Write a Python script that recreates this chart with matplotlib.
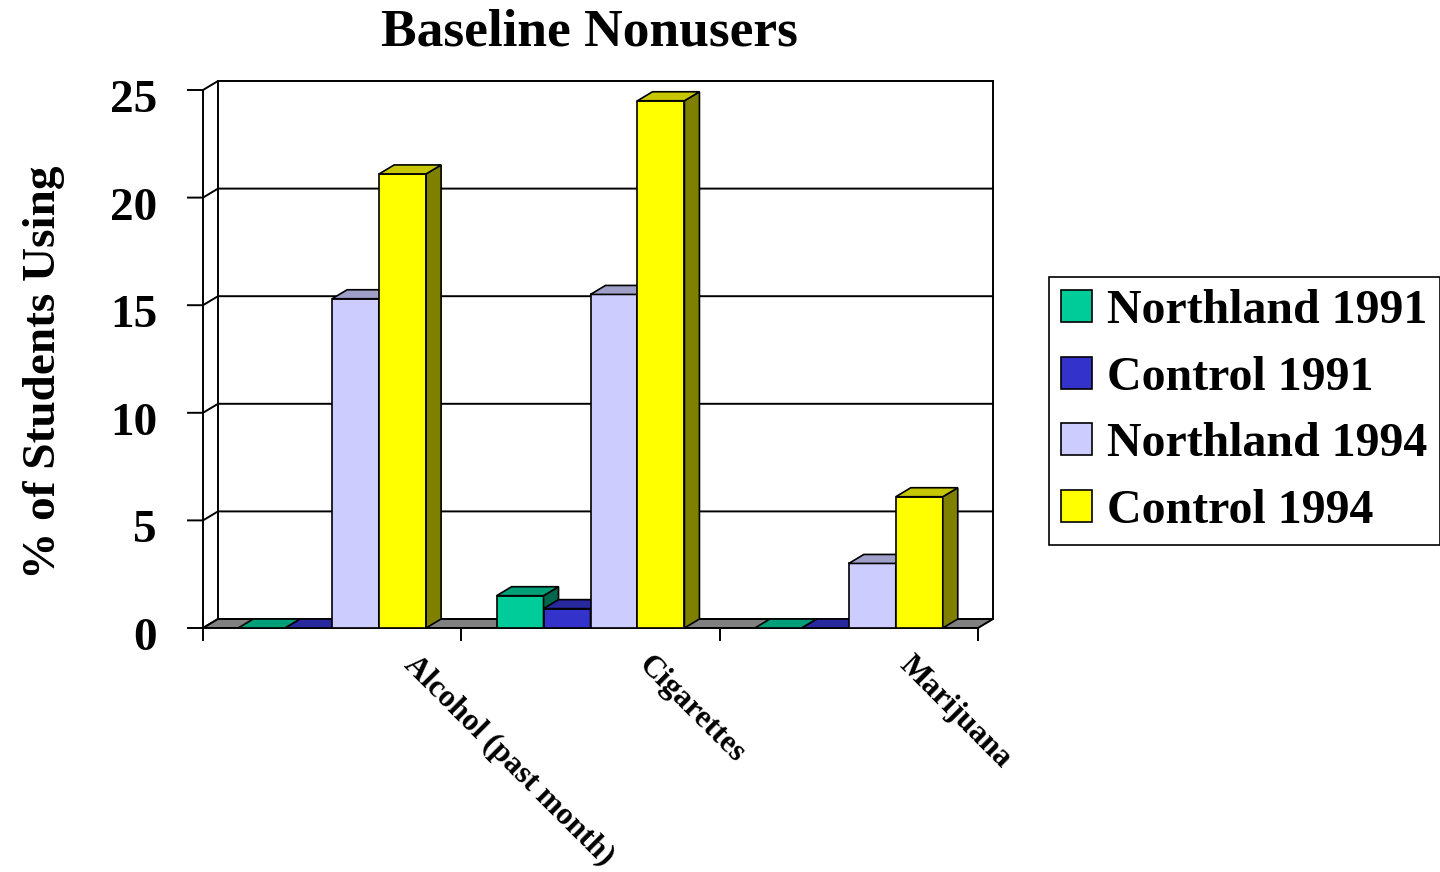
import matplotlib
matplotlib.use("Agg")
import matplotlib.pyplot as plt
from matplotlib.patches import Polygon, Patch
from matplotlib.colors import to_rgb

################################################################
##### chart data

CATEGORIES = ["Alcohol (past month)", "Cigarettes", "Marijuana"]
SERIES = ["Northland 1991", "Control 1991", "Northland 1994", "Control 1994"]

northland_1991 = [0.0, 1.5, 0.0]
control_1991 = [0.0, 0.9, 0.0]
northland_1994 = [15.3, 15.5, 3.0]
control_1994 = [21.1, 24.5, 6.1]

Y_TICKS = [0, 5, 10, 15, 20, 25]

################################################################
##### styling / layout (pixels of the 1440x872 canvas)

COLORS = ["#00CC99", "#3333CC", "#CCCCFF", "#FFFF00"]
FONT = "Liberation Serif"
W, H, DPI = 1440, 872, 100

# front plane of the plot box
LEFT, RIGHT, TOP, BOTTOM = 203, 978, 90, 628
DEPTH_X, DEPTH_Y = 15, 9      # 3d offset of the back wall
TICK = 15                     # tick length
LABEL_SHIFT = [86, 63, 65]    # x shift of rotated category labels
LW = 1.4

YMAX = Y_TICKS[-1]
NCAT = len(CATEGORIES)
px_x = NCAT / (RIGHT - LEFT)
px_y = YMAX / (BOTTOM - TOP)
dx, dy = DEPTH_X * px_x, DEPTH_Y * px_y


def shade(color, f):
    return tuple(c * f for c in to_rgb(color))


def bar3d(ax, x0, w, h, color):
    front = [(x0, 0), (x0 + w, 0), (x0 + w, h), (x0, h)]
    side = [(x0 + w, 0), (x0 + w + dx, dy), (x0 + w + dx, h + dy), (x0 + w, h)]
    top = [(x0, h), (x0 + w, h), (x0 + w + dx, h + dy), (x0 + dx, h + dy)]
    for poly, fc in ((front, color), (side, shade(color, 0.5)), (top, shade(color, 0.78))):
        ax.add_patch(Polygon(poly, closed=True, fc=fc, ec="k", lw=1.2,
                             joinstyle="miter", clip_on=False, zorder=3))


def main():
    fig = plt.figure(figsize=(W / DPI, H / DPI), dpi=DPI)
    ax = fig.add_axes([LEFT / W, (H - BOTTOM) / H, (RIGHT - LEFT) / W, (BOTTOM - TOP) / H])
    ax.set_xlim(0, NCAT)
    ax.set_ylim(0, YMAX)
    ax.axis("off")

    # walls + gridlines
    for v in Y_TICKS:
        ax.plot([-TICK * px_x, 0, dx, NCAT + dx], [v, v, v + dy, v + dy],
                color="k", lw=LW, clip_on=False, zorder=1)
    ax.plot([dx, dx], [dy, YMAX + dy], color="k", lw=LW, clip_on=False, zorder=1)
    ax.plot([NCAT + dx, NCAT + dx], [dy, YMAX + dy], color="k", lw=LW, clip_on=False, zorder=1)

    # floor
    ax.add_patch(Polygon([(0, 0), (NCAT, 0), (NCAT + dx, dy), (dx, dy)], closed=True,
                         fc="#808080", ec="k", lw=LW, clip_on=False, zorder=2))

    # front axis and category ticks
    ax.plot([0, 0], [-12 * px_y, YMAX], color="k", lw=LW, clip_on=False, zorder=4)
    for i in range(1, NCAT + 1):
        ax.plot([i, i], [0, -12 * px_y], color="k", lw=LW, clip_on=False, zorder=4)

    # bars: 4 per group, gap width 150%
    values = [northland_1991, control_1991, northland_1994, control_1994]
    bw = 1 / (len(SERIES) + 1.5)
    for i in range(NCAT):
        for j, vals in enumerate(values):
            bar3d(ax, i + 0.75 * bw + j * bw, bw, vals[i], COLORS[j])

    # y tick labels
    for v in Y_TICKS:
        ax.text(-46 * px_x, v - 22 * px_y, str(v), ha="right", va="baseline",
                fontsize=34, fontweight="bold", family=FONT, clip_on=False)

    # rotated category labels
    for i, name in enumerate(CATEGORIES):
        ax.text(i + 0.5 + LABEL_SHIFT[i] * px_x, -22 * px_y, name, rotation=-45,
                rotation_mode="anchor", ha="left", va="top",
                fontsize=22.7, fontweight="bold", family=FONT, clip_on=False)

    fig.text(589 / W, 1 - 45 / H, "Baseline Nonusers", ha="center", va="baseline",
             fontsize=38.5, fontweight="bold", family=FONT)
    fig.text(55 / W, 1 - 372 / H, "% of Students Using", rotation=90,
             rotation_mode="anchor", ha="center", va="baseline",
             fontsize=34, fontweight="bold", family=FONT)

    handles = [Patch(fc=c, ec="k", lw=1.2) for c in COLORS]
    leg = fig.legend(
        handles, SERIES,
        loc="upper left",
        bbox_to_anchor=(1049 / W, 1 - 277 / H),
        bbox_transform=fig.transFigure,
        borderaxespad=0,
        prop={"family": FONT, "weight": "bold", "size": 34.5},
        handlelength=0.65,
        handleheight=0.65,
        handletextpad=0.32,
        labelspacing=0.47,
        borderpad=0.25,
        fancybox=False,
        framealpha=1,
    )
    leg.get_frame().set_edgecolor("k")
    leg.get_frame().set_linewidth(1.2)

    fig.savefig("out.png", dpi=DPI)


if __name__ == "__main__":
    main()
